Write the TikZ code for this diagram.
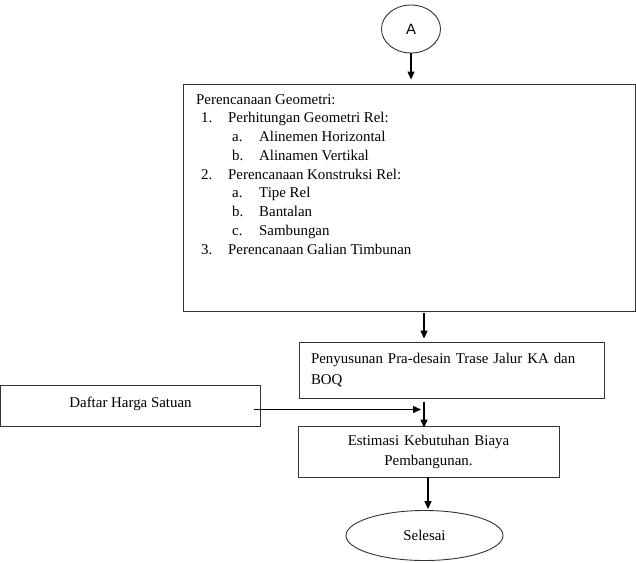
\documentclass[tikz,border=0pt]{standalone}
\usepackage{fontspec}
\setmainfont{Liberation Serif}
\newfontfamily\sansA{Liberation Sans}
\usetikzlibrary{shapes.geometric,arrows.meta}

\begin{document}
\begin{tikzpicture}[x=1pt,y=-1pt,
    box/.style={draw=black!80,line width=.9pt,rectangle},
    arr/.style={-{Triangle[length=8pt,width=7pt]},line width=1.3pt},
    every node/.style={font=\fontsize{14.9}{18.75}\selectfont}]

      \useasboundingbox (0,0) rectangle (636,562);

      \node[ellipse,draw=black!80,line width=.9pt,minimum width=59pt,minimum height=48pt,inner sep=0pt,font=\sansA\fontsize{14.9}{18}\selectfont] (A) at (411,29) {A};

      \node[box,minimum width=452pt,minimum height=227pt] (geo) at (409,197.5) {};
      \node[anchor=base west,inner sep=0pt] (geolist) at (196,104) {%
        \begin{tabular}[t]{@{}l@{}}
          Perencanaan Geometri:\\
          \hspace*{5pt}\makebox[27pt][l]{1.}Perhitungan Geometri Rel:\\
          \hspace*{36pt}\makebox[27pt][l]{a.}Alinemen Horizontal\\
          \hspace*{36pt}\makebox[27pt][l]{b.}Alinamen Vertikal\\
          \hspace*{5pt}\makebox[27pt][l]{2.}Perencanaan Konstruksi Rel:\\
          \hspace*{36pt}\makebox[27pt][l]{a.}Tipe Rel\\
          \hspace*{36pt}\makebox[27pt][l]{b.}Bantalan\\
          \hspace*{36pt}\makebox[27pt][l]{c.}Sambungan\\
          \hspace*{5pt}\makebox[27pt][l]{3.}Perencanaan Galian Timbunan
        \end{tabular}};

      \node[box,text width=281pt,inner xsep=12pt,minimum height=56pt,align=left,
            font=\fontsize{14.9}{21}\selectfont] (pra) at (451.5,370)
            {Penyusunan Pra-desain Trase Jalur KA dan\\BOQ};

      \node[box,minimum width=259.5pt,minimum height=41pt] (harga) at (130.5,405.5)
            {\raisebox{6pt}{Daftar Harga Satuan}};

      \node[box,text width=245pt,inner xsep=8pt,minimum height=51pt,align=center,
            font=\fontsize{14.9}{20}\selectfont] (biaya) at (428.5,451.5)
            {Estimasi Kebutuhan Biaya\\Pembangunan.};

      \node[ellipse,draw=black!80,line width=.9pt,minimum width=157pt,minimum height=50pt,inner sep=0pt] (selesai) at (424.5,535.5) {Selesai};

      \coordinate (k1) at (424,0);
      \coordinate (hend) at (421,409.5);

      \draw[arr,shorten >=4pt] (A) -- (A |- geo.north);
      \draw[arr,shorten <=2pt,shorten >=3pt] (geo.south -| k1) -- (pra.north -| k1);
      \draw[arr,shorten <=4pt,shorten >=-2pt] (pra.south -| k1) -- (biaya.north -| k1);
      \draw[arr] ([xshift=-7pt,yshift=-4pt]harga.east) -- (hend);
      \draw[arr,shorten >=1pt] (biaya.south -| 428,0) -- (selesai.north -| 428,0);

    \end{tikzpicture}
\end{document}
